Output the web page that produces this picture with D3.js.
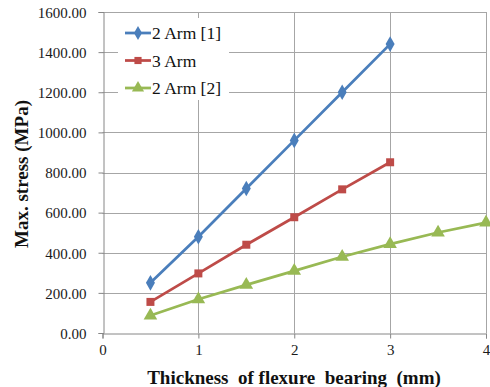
<!DOCTYPE html>
<html><head><meta charset="utf-8">
<script src="https://cdn.jsdelivr.net/npm/d3@7"></script>
<style>body{margin:0;background:#fff}svg{display:block}</style>
</head><body>
<script>
const xTicks = [0, 1, 2, 3, 4];
const yTicks = [0, 200, 400, 600, 800, 1000, 1200, 1400, 1600];
const seriesNames = ["2 Arm [1]", "3 Arm", "2 Arm [2]"];
const arm2a_x = [0.5, 1, 1.5, 2, 2.5, 3];
const arm2a_y = [250, 480, 720, 960, 1200, 1440];
const arm3_x = [0.5, 1, 1.5, 2, 2.5, 3];
const arm3_y = [155, 297, 440, 577, 716, 851];
const arm2b_x = [0.5, 1, 1.5, 2, 2.5, 3, 3.5, 4];
const arm2b_y = [87, 168, 240, 310, 380, 443, 501, 550];
const colors = ["#4a7ebb", "#be4b48", "#98b954"];
const symbols = [d3.symbolDiamond, d3.symbolSquare, d3.symbolTriangle];

const W = 490, H = 387;
const m = {l: 102.5, r: 4, t: 12, b: 54};
const svg = d3.select("body").append("svg").attr("width", W).attr("height", H);
const x = d3.scaleLinear().domain([0, 4]).range([m.l, W - m.r]);
const y = d3.scaleLinear().domain([0, 1600]).range([H - m.b, m.t]);
const font = "Liberation Serif, Times New Roman, serif";
const grid = "#a6a6a6";

// gridlines
svg.append("g").selectAll("line").data(yTicks.slice(1)).join("line")
  .attr("x1", x(0)).attr("x2", x(4)).attr("y1", d => Math.round(y(d)) + 0.5).attr("y2", d => Math.round(y(d)) + 0.5)
  .attr("stroke", grid).attr("stroke-width", 1);
svg.append("g").selectAll("line").data(xTicks.slice(1)).join("line")
  .attr("y1", y(0)).attr("y2", y(1600)).attr("x1", d => Math.round(x(d)) + 0.5).attr("x2", d => Math.round(x(d)) + 0.5)
  .attr("stroke", grid).attr("stroke-width", 1);

// axes
const yAxis = d3.axisLeft(y).tickValues(yTicks).tickFormat(d => d.toFixed(2)).tickSize(5).tickPadding(12);
const xAxis = d3.axisBottom(x).tickValues(xTicks).tickFormat(d3.format("d")).tickSize(5).tickPadding(6);
const ya = svg.append("g").attr("transform", `translate(${Math.round(x(0)) + 0.5},0)`).call(yAxis);
const xa = svg.append("g").attr("transform", `translate(0,${Math.round(y(0)) + 0.5})`).call(xAxis);
[ya, xa].forEach(a => {
  a.attr("font-family", null).attr("font-size", null);
  a.select(".domain").attr("stroke", "#868686");
  a.selectAll(".tick line").attr("stroke", "#868686");
  a.selectAll("text").style("font-family", font).style("font-size", "15px").attr("fill", "#1a1a1a");
});
ya.selectAll(".tick text").attr("dy", "0.35em");

// series
const data = [
  arm2a_x.map((v, i) => [v, arm2a_y[i]]),
  arm3_x.map((v, i) => [v, arm3_y[i]]),
  arm2b_x.map((v, i) => [v, arm2b_y[i]])
];
const line = d3.line().x(d => x(d[0])).y(d => y(d[1]));
const symSizes = [70, 64, 80];
data.forEach((pts, i) => {
  svg.append("path").datum(pts).attr("d", line).attr("fill", "none")
    .attr("stroke", colors[i]).attr("stroke-width", 2.75);
  svg.append("g").selectAll("path").data(pts).join("path")
    .attr("d", d3.symbol().type(symbols[i]).size(symSizes[i]))
    .attr("transform", d => `translate(${x(d[0])},${y(d[1])})`)
    .attr("fill", colors[i]);
});

// legend
const lg = svg.append("g");
lg.append("rect").attr("x", 118).attr("y", 18).attr("width", 111).attr("height", 82).attr("fill", "#fff");
seriesNames.forEach((n, i) => {
  const yy = 33 + i * 27.5;
  lg.append("line").attr("x1", 125).attr("x2", 151).attr("y1", yy).attr("y2", yy)
    .attr("stroke", colors[i]).attr("stroke-width", 2.75);
  lg.append("path").attr("d", d3.symbol().type(symbols[i]).size(symSizes[i] * 0.8)())
    .attr("transform", `translate(138,${yy})`).attr("fill", colors[i]);
  lg.append("text").attr("x", 152).attr("y", yy).attr("dy", "0.35em")
    .style("font-family", font).style("font-size", "17.5px").attr("fill", "#111").text(n);
});

// axis titles
svg.append("text").attr("x", 294).attr("y", 377).attr("dy", "0.35em").attr("text-anchor", "middle")
  .style("font-family", font).style("font-weight", "bold").style("font-size", "19px").attr("fill", "#111")
  .style("white-space", "pre")
  .text("Thickness  of flexure  bearing  (mm)");
svg.append("text").attr("transform", "translate(21,174) rotate(-90)").attr("dy", "0.35em").attr("text-anchor", "middle")
  .style("font-family", font).style("font-weight", "bold").style("font-size", "19px").attr("fill", "#111")
  .text("Max. stress (MPa)");
</script>
</body></html>
